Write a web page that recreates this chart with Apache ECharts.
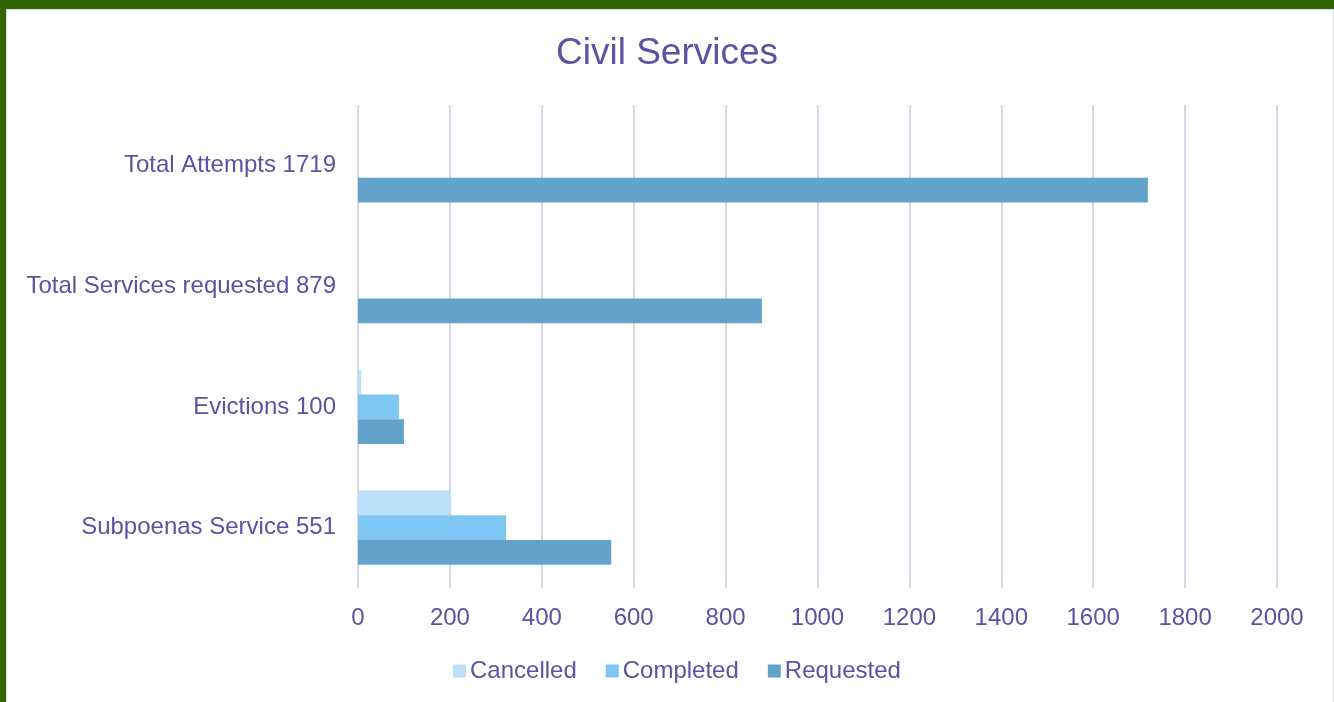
<!DOCTYPE html>
<html>
<head>
<meta charset="utf-8">
<script src="https://cdn.jsdelivr.net/npm/echarts@6/dist/echarts.min.js"></script>
<style>
html,body{margin:0;padding:0;width:1334px;height:702px;overflow:hidden;background:#fff;}
#frame{position:absolute;left:0;top:0;width:1334px;height:702px;box-sizing:border-box;border-top:9px solid #336600;border-left:6px solid #336600;}
#inner{position:absolute;left:6px;top:9px;right:0;bottom:0;border-top:1px solid #dcdaea;border-left:1px solid #dcdaea;border-right:1px solid #dcdaea;}
#chart{position:absolute;left:0;top:0;width:1334px;height:702px;}
</style>
</head>
<body>
<div id="frame"></div>
<div id="inner"></div>
<div id="chart"></div>
<script>
const categories = ["Subpoenas Service 551", "Evictions 100", "Total Services requested 879", "Total Attempts 1719"];
const cancelled = [202, 7, 0, 0];
const completed = [322, 89, 0, 0];
const requested = [551, 100, 879, 1719];
const xTicks = [0, 2000, 200];

const textColor = '#5b52a3';
const font = '"Liberation Sans", Arial, sans-serif';
const chart = echarts.init(document.getElementById('chart'), null, {renderer: 'canvas'});
chart.setOption({
  backgroundColor: 'transparent',
  animation: false,
  title: {
    text: 'Civil Services',
    left: 'center',
    top: 30,
    textStyle: {color: textColor, fontSize: 37, fontWeight: 'normal', fontFamily: font}
  },
  legend: {
    top: 654,
    left: 448,
    itemWidth: 13,
    itemHeight: 13,
    itemGap: 29,
    icon: 'rect',
    textStyle: {color: textColor, fontSize: 24, fontFamily: font, padding: [0, 0, 0, -1]},
    data: ['Cancelled', 'Completed', 'Requested']
  },
  grid: {left: 358, right: 57, top: 105, bottom: 114, containLabel: false},
  xAxis: {
    type: 'value',
    min: xTicks[0], max: xTicks[1], interval: xTicks[2],
    axisLine: {show: false},
    axisTick: {show: false},
    axisLabel: {color: textColor, fontSize: 24, fontFamily: font, margin: 18, formatter: v => String(v)},
    splitLine: {show: true, lineStyle: {color: '#d9d6ea', width: 2}}
  },
  yAxis: {
    type: 'category',
    data: categories,
    axisLine: {show: false},
    axisTick: {show: false},
    axisLabel: {color: textColor, fontSize: 24, fontFamily: font, margin: 22}
  },
  series: [
    {name: 'Cancelled', type: 'bar', data: cancelled, itemStyle: {color: '#bcdff7'}, barGap: '0%', barCategoryGap: '38.5%'},
    {name: 'Completed', type: 'bar', data: completed, itemStyle: {color: '#7dc5f2'}, barGap: '0%', barCategoryGap: '38.5%'},
    {name: 'Requested', type: 'bar', data: requested, itemStyle: {color: '#64a3c9'}, barGap: '0%', barCategoryGap: '38.5%'}
  ]
});
</script>
</body>
</html>
